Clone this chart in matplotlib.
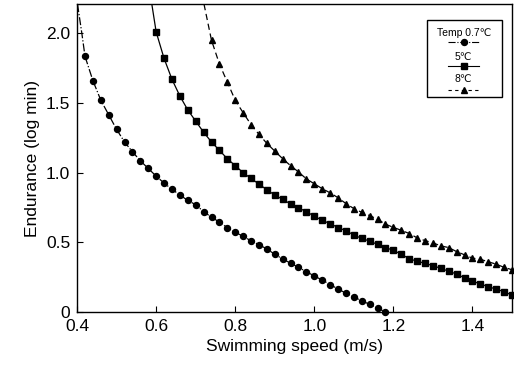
import matplotlib
matplotlib.use("Agg")
import matplotlib.pyplot as plt
from matplotlib.patches import Rectangle

plt.rcParams['font.family'] = ['Liberation Sans', 'DejaVu Sans']

# speeds (m/s) and endurance (log min)
speed_07 = [0.42, 0.44, 0.46, 0.48, 0.50, 0.52, 0.54, 0.56, 0.58, 0.60,
            0.62, 0.64, 0.66, 0.68, 0.70, 0.72, 0.74, 0.76, 0.78, 0.80,
            0.82, 0.84, 0.86, 0.88, 0.90, 0.92, 0.94, 0.96, 0.98, 1.00,
            1.02, 1.04, 1.06, 1.08, 1.10, 1.12, 1.14, 1.16, 1.18]
endur_07 = [1.835, 1.66, 1.52, 1.415, 1.31, 1.22, 1.15, 1.085, 1.03, 0.975,
            0.925, 0.88, 0.84, 0.80, 0.77, 0.72, 0.68, 0.645, 0.605, 0.573,
            0.542, 0.511, 0.483, 0.452, 0.414, 0.38, 0.35, 0.32, 0.289, 0.258,
            0.229, 0.196, 0.165, 0.134, 0.108, 0.079, 0.055, 0.027, 0.0]

speed_5 = [0.60, 0.62, 0.64, 0.66, 0.68, 0.70, 0.72, 0.74, 0.76, 0.78,
           0.80, 0.82, 0.84, 0.86, 0.88, 0.90, 0.92, 0.94, 0.96, 0.98,
           1.00, 1.02, 1.04, 1.06, 1.08, 1.10, 1.12, 1.14, 1.16, 1.18,
           1.20, 1.22, 1.24, 1.26, 1.28, 1.30, 1.32, 1.34, 1.36, 1.38,
           1.40, 1.42, 1.44, 1.46, 1.48, 1.50]
endur_5 = [2.01, 1.82, 1.67, 1.55, 1.45, 1.37, 1.29, 1.22, 1.16, 1.10,
           1.05, 1.00, 0.958, 0.918, 0.877, 0.839, 0.808, 0.775, 0.748, 0.719,
           0.688, 0.657, 0.634, 0.606, 0.583, 0.552, 0.528, 0.508, 0.485, 0.462,
           0.442, 0.414, 0.382, 0.364, 0.349, 0.332, 0.313, 0.292, 0.272, 0.244,
           0.222, 0.20, 0.182, 0.163, 0.146, 0.12]

speed_8 = [0.74, 0.76, 0.78, 0.80, 0.82, 0.84, 0.86, 0.88, 0.90, 0.92,
           0.94, 0.96, 0.98, 1.00, 1.02, 1.04, 1.06, 1.08, 1.10, 1.12,
           1.14, 1.16, 1.18, 1.20, 1.22, 1.24, 1.26, 1.28, 1.30, 1.32,
           1.34, 1.36, 1.38, 1.40, 1.42, 1.44, 1.46, 1.48, 1.50]
endur_8 = [1.95, 1.78, 1.65, 1.52, 1.43, 1.345, 1.275, 1.21, 1.155, 1.10,
           1.05, 1.005, 0.955, 0.92, 0.885, 0.855, 0.82, 0.778, 0.742, 0.715,
           0.692, 0.665, 0.63, 0.607, 0.586, 0.563, 0.532, 0.512, 0.496, 0.474,
           0.462, 0.433, 0.41, 0.386, 0.378, 0.36, 0.343, 0.32, 0.303]

# where each fitted curve leaves the top of the frame (no marker there)
top_07 = ([0.401, 0.412], [2.21, 2.0])
top_5 = ([0.589], [2.21])
top_8 = ([0.721], [2.21])

fig = plt.figure(figsize=(5.14, 3.74), dpi=100)
ax = fig.add_axes([0.150, 0.166, 0.846, 0.823])

lw = 0.9
ax.plot(top_07[0] + speed_07, top_07[1] + endur_07, color='black', lw=lw, ls='-.')
ax.plot(speed_07, endur_07, 'o', color='black', ms=4.3, clip_on=False)
ax.plot(top_5[0] + speed_5, top_5[1] + endur_5, color='black', lw=lw, ls='-')
ax.plot(speed_5, endur_5, 's', color='black', ms=4.0, clip_on=False)
ax.plot(top_8[0] + speed_8, top_8[1] + endur_8, color='black', lw=lw, ls=(0, (5, 3)))
ax.plot(speed_8, endur_8, '^', color='black', ms=4.6, clip_on=False)

ax.set_xlim(0.4, 1.5)
ax.set_ylim(0, 2.21)
ax.set_xticks([0.4, 0.6, 0.8, 1.0, 1.2, 1.4])
ax.set_xticklabels(['0.4', '0.6', '0.8', '1.0', '1.2', '1.4'])
ax.set_yticks([0, 0.5, 1.0, 1.5, 2.0])
ax.set_yticklabels(['0', '0.5', '1.0', '1.5', '2.0'])
ax.tick_params(direction='in', length=4, width=0.8, labelsize=12.5, pad=5)
for s in ax.spines.values():
    s.set_linewidth(1.0)

ax.set_xlabel('Swimming speed (m/s)', fontsize=12.5, labelpad=4)
ax.set_ylabel('Endurance (log min)', fontsize=12.5, labelpad=4)

# hand-made legend box
tr = ax.transAxes
ax.add_patch(Rectangle((0.805, 0.698), 0.172, 0.250, transform=tr,
                       fill=False, lw=1.0, ec='black', zorder=5))
cx = 0.889
ax.text(cx, 0.905, 'Temp 0.7℃', transform=tr, ha='center', va='center', fontsize=7.5)
ax.plot([cx - 0.035, cx + 0.035], [0.876, 0.876], transform=tr, color='black', lw=0.8, ls='-.')
ax.plot([cx], [0.876], 'o', transform=tr, color='black', ms=4.3)
ax.text(cx, 0.828, '5℃', transform=tr, ha='center', va='center', fontsize=7.5)
ax.plot([cx - 0.035, cx + 0.035], [0.799, 0.799], transform=tr, color='black', lw=0.8)
ax.plot([cx], [0.799], 's', transform=tr, color='black', ms=4.0)
ax.text(cx, 0.756, '8℃', transform=tr, ha='center', va='center', fontsize=7.5)
ax.plot([cx - 0.035, cx + 0.035], [0.721, 0.721], transform=tr, color='black', lw=0.8, ls=(0, (3, 3)))
ax.plot([cx], [0.721], '^', transform=tr, color='black', ms=4.6)

fig.savefig('out.png', dpi=100)
